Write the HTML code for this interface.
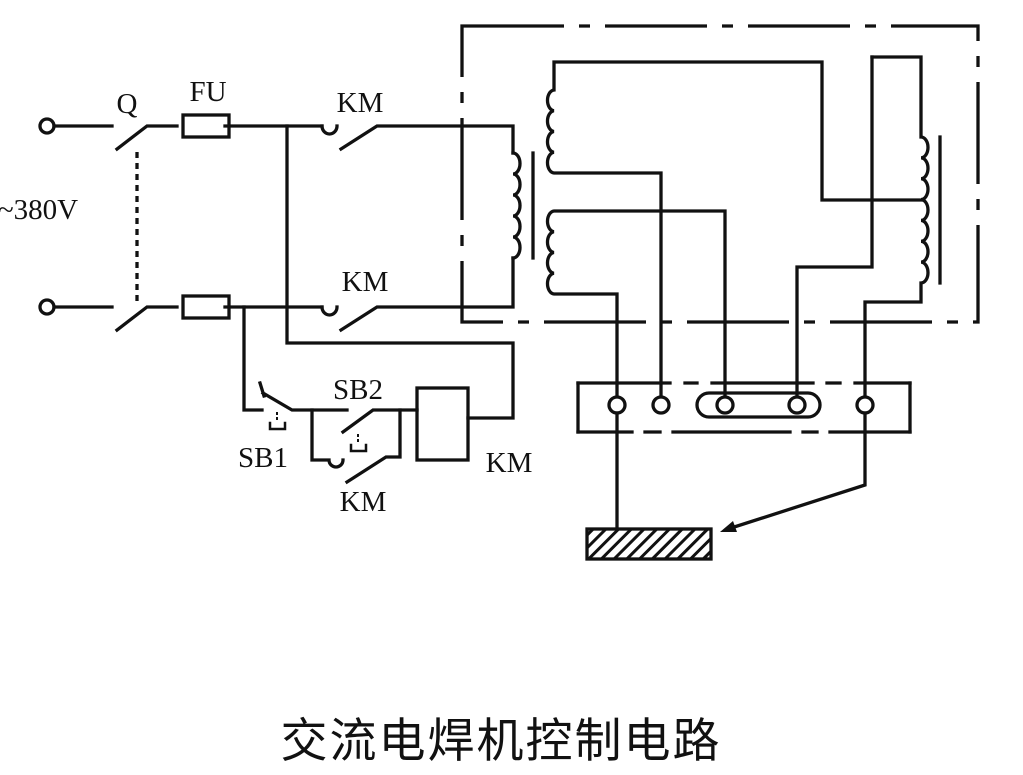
<!DOCTYPE html>
<html><head><meta charset="utf-8"><style>
html,body{margin:0;padding:0;background:#fff;}
svg{display:block;}
</style></head><body>
<svg width="1023" height="775" viewBox="0 0 1023 775" xmlns="http://www.w3.org/2000/svg">
<defs>
<pattern id="h" width="9" height="9" patternUnits="userSpaceOnUse" patternTransform="rotate(45)">
<rect width="9" height="9" fill="#fff"/><rect width="3" height="9" fill="#111"/>
</pattern>
</defs>
<g stroke="#111" stroke-width="3.3" fill="none" stroke-linecap="square">
<circle cx="47" cy="126" r="7"/><circle cx="47" cy="307" r="7"/>
<path d="M54 126H112 M117 149L147 126H177 M225 126H322 M341 149L377 126H513V153"/>
<path d="M54 307H112 M117 330L147 307H177 M225 307H322 M341 330L377 307H513V258"/>
<rect x="183" y="115" width="46" height="22"/>
<rect x="183" y="296" width="46" height="22"/>
<path d="M322 126A7.5 8 0 0 0 337 126 M322 307A7.5 8 0 0 0 337 307"/>
<path d="M137 152V306" stroke-dasharray="6 5" stroke-linecap="butt"/>
<path d="M513 153a7 10.5 0 0 1 0 21a7 10.5 0 0 1 0 21a7 10.5 0 0 1 0 21a7 10.5 0 0 1 0 21a7 10.5 0 0 1 0 21"/>
<path d="M533 153V258"/>
<path d="M287 126V343H513V418H468"/>
<path d="M244 307V410H262 M263 393L292 410H347 M260 383L264 396 M343 432L373 410H417"/>
<path d="M312 410V460H329 M329 460A7 7 0 0 0 343 460 M347 482L386 457H400V410"/>
<rect x="417" y="388" width="51" height="72"/>
<path d="M277 412V422 M358 434V444" stroke-width="2" stroke-dasharray="3 2" stroke-linecap="butt"/>
<path d="M270 423V429H285V423 M351 445V451H366V445" stroke-width="2.5"/>
<path d="M462 26H978V322H462Z" stroke-dasharray="102 15 11 15" stroke-linecap="butt"/>
<path d="M554 62H822V200H921 M554 62V90a7 10.4 0 0 0 0 20.75a7 10.4 0 0 0 0 20.75a7 10.4 0 0 0 0 20.75a7 10.4 0 0 0 0 20.75H661V397"/>
<path d="M725 397V211H554a7 10.4 0 0 0 0 20.75a7 10.4 0 0 0 0 20.75a7 10.4 0 0 0 0 20.75a7 10.4 0 0 0 0 20.75H617V397"/>
<path d="M872 57H921V137a7 10.43 0 0 1 0 20.86a7 10.43 0 0 1 0 20.86a7 10.43 0 0 1 0 20.86a7 10.43 0 0 1 0 20.86a7 10.43 0 0 1 0 20.86a7 10.43 0 0 1 0 20.86a7 10.43 0 0 1 0 20.86V302H865V397"/>
<path d="M872 57V267H797V397"/>
<path d="M940 137V283"/>
<path d="M578 383V432 M910 383V432"/>
<path d="M578 383H670 M685 383H697 M712 383H813 M827 383H840 M855 383H910"/>
<path d="M578 432H632 M645 432H660 M673 432H790 M803 432H817 M830 432H910"/>
<circle cx="617" cy="405" r="8" fill="#fff"/><circle cx="661" cy="405" r="8" fill="#fff"/>
<rect x="697" y="393" width="123" height="24" rx="12"/>
<circle cx="725" cy="405" r="8" fill="#fff"/><circle cx="797" cy="405" r="8" fill="#fff"/>
<circle cx="865" cy="405" r="8" fill="#fff"/>
<path d="M617 413V528 M865 413V485L728 529"/>
<rect x="587" y="529" width="124" height="30" fill="url(#h)"/>
</g>
<path d="M720 532L733 521L737 532Z" fill="#111"/>
<g font-family="Liberation Serif, serif" font-size="29" fill="#111" text-anchor="middle">
<text x="127" y="113">Q</text>
<text x="208" y="101">FU</text>
<text x="360" y="112">KM</text>
<text x="365" y="291">KM</text>
<text x="38" y="219">~380V</text>
<text x="358" y="399">SB2</text>
<text x="263" y="467">SB1</text>
<text x="509" y="472">KM</text>
<text x="363" y="511">KM</text>
</g>
<text x="501" y="757" font-family="Liberation Sans, Noto Sans CJK SC, sans-serif" font-size="47" fill="#111" text-anchor="middle" letter-spacing="2">交流电焊机控制电路</text>
</svg>
</body></html>
